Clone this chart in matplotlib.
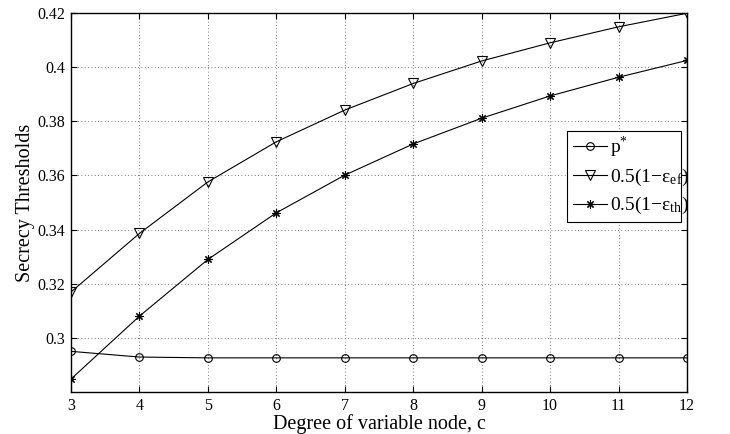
import matplotlib
matplotlib.use('Agg')
import matplotlib.pyplot as plt
from matplotlib.patches import Rectangle

# ==========================================
# Secrecy thresholds vs. degree of variable node
# ==========================================

plt.rcParams['font.family'] = ['Liberation Serif', 'DejaVu Serif']
plt.rcParams['mathtext.fontset'] = 'custom'
plt.rcParams['mathtext.rm'] = 'Liberation Serif'
plt.rcParams['mathtext.it'] = 'Liberation Serif:italic'
plt.rcParams['mathtext.default'] = 'rm'

degree = [3, 4, 5, 6, 7, 8, 9, 10, 11, 12]
p_star = [0.2951, 0.2930, 0.2927, 0.2927, 0.2927, 0.2927, 0.2927, 0.2927, 0.2927, 0.2927]
eps_ef = [0.3170, 0.3386, 0.3576, 0.3724, 0.3841, 0.3939, 0.4022, 0.4089, 0.4148, 0.4198]
eps_th = [0.2849, 0.3081, 0.3290, 0.3462, 0.3601, 0.3716, 0.3811, 0.3893, 0.3962, 0.4024]

labels = [r'$\mathrm{p}^{*}$', '0.5(1\u2212\u03b5$_{\\mathrm{ef}}$)', '0.5(1\u2212\u03b5$_{\\mathrm{th}}$)']
y_ticks = [0.3, 0.32, 0.34, 0.36, 0.38, 0.4, 0.42]
y_tick_labels = ['0.3', '0.32', '0.34', '0.36', '0.38', '0.4', '0.42']

fig = plt.figure(figsize=(7.3, 4.34), dpi=100)
ax = fig.add_axes([0.0973, 0.0961, 0.8438, 0.8746])

ax.plot(degree, p_star, color='black', lw=0.8, marker='o', ms=5.5,
        mfc='none', mec='black', mew=0.8, label=labels[0])
ax.plot(degree, eps_ef, color='black', lw=0.8, marker='v', ms=7,
        mfc='none', mec='black', mew=0.8, label=labels[1])
ax.plot(degree, eps_th, color='black', lw=0.8, marker=(8, 2, 0), ms=6,
        mfc='black', mec='black', mew=0.8, label=labels[2])

ax.set_xlim(3, 12)
ax.set_ylim(0.28, 0.42)
ax.set_xticks(degree)
ax.set_xticklabels([str(d) for d in degree])
ax.set_yticks(y_ticks)
ax.set_yticklabels(y_tick_labels)

ax.grid(True, linestyle=(0, (1, 3)), color='#555555', lw=0.6)
ax.tick_params(direction='in', top=True, right=True, labelsize=11.5, length=4, width=0.8)
ax.tick_params(axis='x', pad=4)
ax.tick_params(axis='y', pad=4)
for sp in ax.spines.values():
    sp.set_linewidth(1.0)

ax.set_xlabel('Degree of variable node, c', fontsize=14.5, labelpad=0.5)
ax.set_ylabel('Secrecy Thresholds', fontsize=14.5, labelpad=2)

# 图例框按参考图的固定尺寸画，文字可以略微压到边框上
box = Rectangle((0.8047, 0.4494), 0.185, 0.2397, transform=ax.transAxes,
                facecolor='white', edgecolor='black', lw=0.8, zorder=4.5)
ax.add_patch(box)
leg = ax.legend(loc='upper left', bbox_to_anchor=(0.8145, 0.678), fontsize=14,
                frameon=False, handlelength=1.75, borderpad=0, labelspacing=0.36,
                handletextpad=0.17, borderaxespad=0)

fig.savefig('out.png', dpi=100)
